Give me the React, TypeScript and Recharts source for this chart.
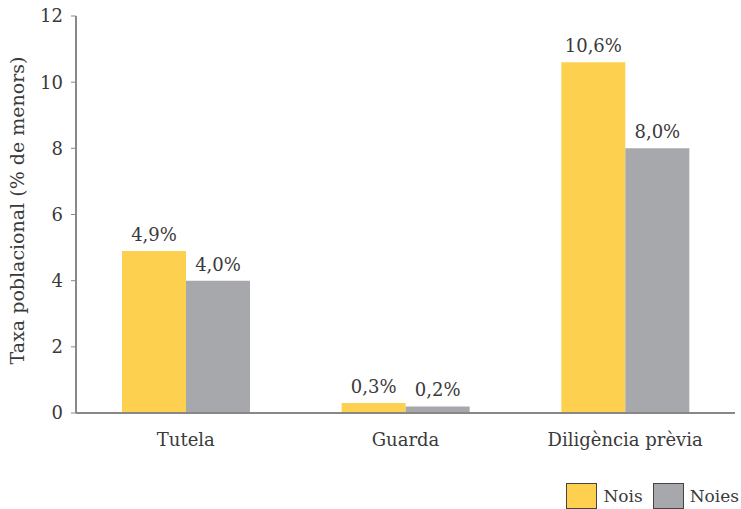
import { BarChart, Bar, XAxis, YAxis, Legend, LabelList } from "recharts";

const categories = ["Tutela", "Guarda", "Diligència prèvia"];
const nois = [4.9, 0.3, 10.6];
const noies = [4.0, 0.2, 8.0];
const yTicks = [0, 2, 4, 6, 8, 10, 12];

const data = categories.map((name, i) => ({ name, nois: nois[i], noies: noies[i] }));

const FONT = "'DejaVu Serif', serif";
const TEXT = "#3a3a3a";
const YELLOW = "#fdd14f";
const GREY = "#a7a8ac";
const FS = 18;

const fmt = (v: any) => `${Number(v).toFixed(1).replace(".", ",")}%`;

function LegendBox() {
  const items = [
    { label: "Nois", color: YELLOW },
    { label: "Noies", color: GREY },
  ];
  return (
    <div style={{ display: "flex", justifyContent: "flex-end", fontFamily: FONT, fontSize: 17, color: TEXT }}>
      {items.map((it) => (
        <div key={it.label} style={{ display: "flex", alignItems: "center", marginLeft: 10 }}>
          <span
            style={{
              display: "inline-block",
              width: 29,
              height: 24,
              background: it.color,
              border: "1px solid #444",
              marginRight: 6,
            }}
          />
          {it.label}
        </div>
      ))}
    </div>
  );
}

export default function App() {
  return (
    <div style={{ position: "absolute", left: 0, top: 0 }}>
      <BarChart
        width={741}
        height={509}
        data={data}
        margin={{ top: 16, right: 6, left: 0, bottom: 0 }}
        barCategoryGap={46}
        barGap={0}
      >
        <XAxis
          dataKey="name"
          axisLine={{ stroke: "#888", strokeWidth: 2 }}
          tickLine={false}
          tick={{ fill: TEXT, fontSize: FS, fontFamily: FONT }}
          tickMargin={14}
          height={60}
        />
        <YAxis
          domain={[0, 12]}
          ticks={yTicks}
          width={76}
          axisLine={{ stroke: "#888", strokeWidth: 2 }}
          tickLine={{ stroke: "#888" }}
          tickSize={5}
          tickMargin={8}
          tick={{ fill: TEXT, fontSize: FS, fontFamily: FONT }}
          label={{
            value: "Taxa poblacional (% de menors)",
            angle: -90,
            position: "insideLeft",
            dx: 12,
            dy: -4,
            style: { textAnchor: "middle", fill: TEXT, fontSize: 19, fontFamily: FONT },
          }}
        />
        <Legend
          verticalAlign="bottom"
          align="right"
          height={36}
          wrapperStyle={{ right: 2, bottom: -10 }}
          content={() => <LegendBox />}
        />
        <Bar dataKey="nois" fill={YELLOW} isAnimationActive={false}>
          <LabelList dataKey="nois" position="top" offset={10} formatter={fmt} style={{ fill: TEXT, fontSize: FS, fontFamily: FONT }} />
        </Bar>
        <Bar dataKey="noies" fill={GREY} isAnimationActive={false}>
          <LabelList dataKey="noies" position="top" offset={10} formatter={fmt} style={{ fill: TEXT, fontSize: FS, fontFamily: FONT }} />
        </Bar>
      </BarChart>
    </div>
  );
}
